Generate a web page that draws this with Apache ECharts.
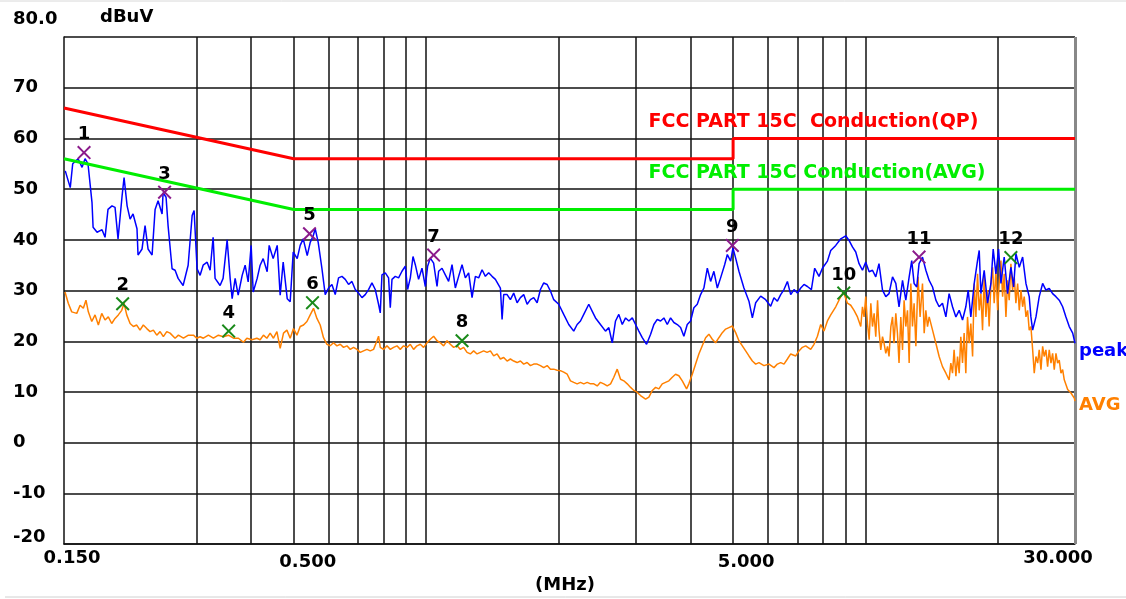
<!DOCTYPE html>
<html><head><meta charset="utf-8">
<script src="https://cdn.jsdelivr.net/npm/echarts@6/dist/echarts.min.js"></script>
<style>html,body{margin:0;padding:0;background:#fff}#c{width:1126px;height:599px}</style>
</head><body><div id="c"></div>
<script>
const peakFreq = [0.151,0.155,0.157,0.1615,0.1649,0.1675,0.1701,0.1737,0.1747,0.1784,0.1831,0.1860,0.1889,0.1929,0.1960,0.1991,0.2034,0.2055,0.2088,0.2121,0.2154,0.2199,0.2211,0.2258,0.2294,0.2330,0.2380,0.2418,0.2456,0.2508,0.2521,0.2561,0.2588,0.2643,0.2685,0.2728,0.2800,0.2875,0.2936,0.2966,0.3013,0.3061,0.3110,0.3176,0.3226,0.3277,0.3311,0.3399,0.3453,0.3527,0.3583,0.3621,0.3678,0.3737,0.3816,0.3876,0.3938,0.4000,0.4043,0.4128,0.4193,0.4260,0.4350,0.4396,0.4489,0.4585,0.4657,0.4731,0.4832,0.4908,0.4986,0.5092,0.5172,0.5255,0.5366,0.5451,0.5538,0.5595,0.5684,
0.5795,0.5897,0.6000,0.6108,0.6215,0.6323,0.6437,0.6550,0.6664,0.6783,0.6902,0.7023,0.7149,0.7273,0.7400,0.7533,0.7665,0.7799,0.7869,0.7939,0.8079,0.8219,0.8293,0.8367,0.8513,0.8661,0.8817,0.8972,0.9081,0.9211,0.9342,0.9455,0.9619,0.9792,0.9965,1.0085,1.0229,1.0408,1.0595,1.0684,1.0876,1.1066,1.1259,1.1462,1.1662,1.1866,1.2079,1.2291,1.2505,1.2730,1.2953,1.3179,1.3416,1.3650,1.3888,1.4137,1.4386,1.4768,1.4900,1.5026,1.5296,1.5563,1.5834,1.6120,1.6402,1.6688,1.6989,1.7285,1.7586,1.7903,1.8216,1.8534,1.8868,1.9197,1.9532,2.005,2.058,2.113,2.169,2.208,2.247,2.286,2.347,2.390,2.431,
2.495,2.562,2.607,2.654,2.700,2.747,2.797,2.846,2.896,2.948,2.999,3.051,3.106,3.177,3.245,3.301,3.360,3.419,3.479,3.541,3.603,3.666,3.732,3.797,3.863,3.932,4.001,4.071,4.144,4.217,4.290,4.368,4.444,4.521,4.603,4.683,4.783,4.851,4.936,4.996,5.067,5.155,5.292,5.433,5.531,5.628,5.777,5.930,6.088,6.194,6.306,6.416,6.528,6.646,6.762,6.880,7.004,7.126,7.250,7.380,7.536,7.668,7.843,7.984,8.197,
8.340,8.562,8.790,9.023,9.180,9.345,9.509,9.675,9.849,10.02,10.20,10.38,10.56,10.74,10.94,11.13,11.32,11.53,11.73,11.93,12.15,12.36,12.58,12.75,12.91,13.09,13.25,13.49,13.73,13.97,14.22,14.47,14.72,14.98,15.25,15.51,15.79,16.07,16.35,16.64,16.93,17.14,17.38,17.69,18.00,18.16,18.32,18.64,18.97,19.31,19.54,19.82,20.10,20.35,20.70,21.07,21.44,21.75,22.01,22.40,22.80,23.20,23.60,23.81,24.03,24.45,24.87,25.32,25.76,26.21,26.68,27.15,27.62,28.12,28.61,29.11,29.64,30.0];
const peakLevel = [53.6,50.3,55.0,56.0,54.3,56.0,55.0,47.4,42.5,41.5,42.0,40.5,46.0,46.7,46.4,40.2,48.7,52.3,46.7,44.1,45.1,42.2,37.0,38.2,42.8,38.2,37.0,46.0,47.7,45.1,49.3,48.4,42.8,34.3,34.0,32.4,31.0,35.0,44.8,45.8,34.3,33.0,35.0,35.6,34.0,40.5,32.4,31.0,32.4,40.0,32.4,28.4,32.4,29.1,33.0,35.0,31.7,38.9,29.7,32.4,35.0,36.3,33.7,38.9,36.3,38.9,29.1,35.6,28.4,27.8,37.6,36.3,38.9,40.2,36.9,39.5,40.8,42.2,39.5,
34.4,29.2,30.5,31.2,29.2,32.5,32.8,32.2,31.2,31.8,30.2,29.5,28.6,29.2,30.2,31.5,30.2,27.3,25.6,33.1,33.5,32.5,26.6,32.2,32.8,32.5,33.8,34.8,30.2,32.5,36.7,35.1,32.2,34.4,30.8,34.8,36.4,35.4,30.8,33.8,34.4,33.1,31.8,35.1,30.5,32.8,35.1,32.5,33.5,28.6,32.8,32.5,34.1,32.8,33.5,32.8,32.2,30.5,24.3,29.2,29.2,28.2,29.5,27.6,28.6,29.2,27.3,28.2,28.6,27.6,30.2,31.5,31.2,29.9,28.2,27.3,25.3,23.3,22.0,23.3,24.0,25.3,27.3,25.9,24.6,
23.3,22.0,22.7,19.7,24.0,25.3,23.3,24.6,24.0,24.6,23.3,22.0,20.7,19.4,21.4,23.3,24.3,24.0,24.6,23.3,24.6,23.7,23.3,22.7,21.0,23.3,24.0,26.6,27.3,29.2,30.5,34.4,31.8,33.8,30.5,32.5,35.1,37.1,35.8,38.4,36.4,33.8,30.5,27.9,24.6,27.6,28.9,28.2,26.9,28.6,27.9,29.2,30.2,31.8,29.2,30.2,29.5,30.5,31.2,30.8,30.2,34.4,32.8,34.4,35.8,
37.9,38.9,40.2,40.8,39.9,38.6,37.6,35.3,34.0,35.6,33.7,34.0,32.7,35.3,30.1,28.8,29.4,32.7,31.4,26.8,32.0,28.1,32.7,35.9,31.4,30.7,35.3,36.6,34.0,32.0,30.7,28.1,26.8,27.5,24.8,29.4,26.8,24.8,26.1,24.2,26.8,30.1,24.8,31.4,35.9,37.9,29.4,34.0,27.5,31.4,38.2,33.3,38.2,31.4,36.6,29.4,34.6,30.7,37.3,34.6,36.6,31.4,28.8,24.8,22.2,24.8,28.8,31.4,30.1,30.4,29.4,28.8,28.1,26.8,24.8,22.9,21.6,19.6];

const avgFreq = [0.1508,0.1534,0.1562,0.1604,0.1632,0.1660,0.1683,0.1704,0.1735,0.1765,0.1796,0.1828,0.1860,0.1892,0.1926,0.1960,0.1994,0.2030,0.2055,0.2084,0.2121,0.2158,0.2196,0.2234,0.2273,0.2315,0.2355,0.2396,0.2439,0.2482,0.2525,0.2570,0.2615,0.2685,0.2732,0.2805,0.2879,0.2956,0.3008,0.3061,0.3114,0.3197,0.3282,0.3369,0.3459,0.3551,0.3646,0.3742,0.3842,0.3911,0.4015,0.4121,0.4193,0.4266,0.4343,0.4419,0.4496,0.4578,0.4657,0.4739,0.4824,0.4908,0.4994,0.5084,0.5172,0.5263,0.5358,0.5451,0.5546,0.5646,0.5744,
0.5844,0.5950,0.6054,0.6159,0.6270,0.6380,0.6491,0.6608,0.6723,0.6841,0.6964,0.7086,0.7209,0.7338,0.7467,0.7597,0.7734,0.7799,0.7869,0.8006,0.8151,0.8293,0.8438,0.8589,0.8739,0.8891,0.9053,0.9211,0.9371,0.9539,0.9706,0.9875,1.0054,1.0229,1.0408,1.0595,1.0780,1.0968,1.1165,1.1360,1.1558,1.1767,1.1972,1.2181,1.2401,1.2617,1.2837,1.3069,1.3297,1.3529,1.3772,1.4013,1.4257,1.4515,1.4768,1.5026,1.5296,1.5563,1.5834,1.6120,1.6402,1.6688,1.6989,1.7285,1.7586,1.7903,1.8216,1.8534,1.8868,1.9197,1.9532,1.988,2.023,2.058,2.096,2.132,2.169,2.208,2.247,2.286,2.328,2.368,2.410,2.453,
2.495,2.539,2.585,2.631,2.676,2.724,2.772,2.820,2.871,2.922,2.973,3.026,3.078,3.161,3.216,3.274,3.331,3.389,3.449,3.509,3.571,3.635,3.698,3.763,3.831,3.918,3.965,4.037,4.108,4.179,4.254,4.329,4.404,4.483,4.562,4.641,4.725,4.808,4.892,4.980,5.067,5.155,5.248,5.340,5.433,5.531,5.628,5.726,5.878,6.034,6.194,6.306,6.416,6.528,6.646,6.762,6.942,7.062,7.189,7.315,7.509,7.640,7.778,7.913,8.051,8.197,
8.340,8.562,8.790,8.915,9.103,9.262,9.424,9.594,9.762,9.849,9.932,10.02,10.11,10.20,10.29,10.38,10.47,10.56,10.66,10.74,10.84,10.94,11.03,11.13,11.23,11.32,11.43,11.53,11.62,11.73,11.83,11.93,12.04,12.15,12.25,12.36,12.47,12.58,12.69,12.80,12.91,13.03,13.18,13.32,13.49,13.61,13.73,13.85,13.97,14.22,14.47,14.72,14.98,15.25,15.51,15.65,15.79,15.92,16.07,16.21,16.35,16.49,16.64,16.78,16.93,17.08,17.23,17.38,17.54,17.69,17.85,18.00,18.16,18.32,18.48,18.64,18.81,18.97,19.13,19.31,19.48,19.64,19.82,20.00,20.16,20.35,20.53,20.70,20.89,21.07,21.25,21.44,21.63,21.82,22.01,22.21,22.40,22.60,22.80,22.99,23.20,23.40,23.60,23.81,24.03,24.23,24.45,24.67,24.87,25.10,25.32,25.53,25.76,25.99,26.21,26.45,26.68,26.91,27.15,27.39,27.62,27.87,28.12,28.36,28.87,29.37,29.89,30.0];
const avgLevel = [29.7,27.5,25.8,25.5,27.1,26.5,28.1,25.8,23.9,25.2,23.2,25.5,24.2,24.8,23.5,24.5,25.2,26.1,27.5,25.2,23.5,22.9,23.2,22.2,23.2,22.5,21.9,22.2,21.2,21.9,20.9,21.9,21.6,20.6,21.2,20.6,21.2,21.2,20.6,20.9,20.6,21.2,20.6,21.2,20.9,21.2,20.6,20.6,19.8,20.6,20.3,20.6,20.3,21.2,20.6,21.6,20.6,21.9,18.6,21.6,22.2,20.6,22.5,21.2,22.9,23.2,23.9,25.2,26.5,24.5,23.2,
20.7,19.4,19.1,19.7,19.1,19.4,18.8,19.1,18.4,18.8,18.4,17.8,18.1,18.4,18.1,18.4,20.1,21.0,18.8,18.4,19.1,18.4,18.8,19.1,18.4,19.1,18.8,19.4,18.4,19.1,19.4,18.8,19.7,20.4,21.0,20.1,19.7,19.1,20.1,19.4,18.8,19.1,18.4,18.8,17.8,17.5,18.1,17.5,17.8,18.1,17.8,18.1,17.1,17.5,16.5,16.8,16.1,16.5,16.1,15.8,16.1,15.5,15.8,15.2,15.5,15.5,15.2,14.8,15.2,14.5,14.5,14.3,14.2,13.9,13.5,12.2,11.9,11.6,11.9,11.6,11.9,11.6,11.6,11.2,
11.9,11.6,11.2,11.6,12.9,14.5,12.5,12.2,11.6,10.9,10.3,9.9,9.3,8.6,9.0,10.3,10.9,10.6,11.6,11.9,12.2,12.9,13.5,13.2,12.2,10.6,11.6,13.5,15.5,17.5,19.1,20.7,21.4,20.4,19.7,20.7,21.7,22.4,22.7,23.0,21.7,20.1,19.1,18.1,17.1,16.1,15.5,15.8,15.2,15.5,14.8,15.5,15.8,15.5,16.5,17.5,17.1,18.1,18.8,19.1,18.4,19.4,21.0,23.3,22.0,24.0,
25.2,26.8,28.8,29.7,27.5,27.1,26.1,24.8,22.9,26.8,24.8,28.8,23.5,20.3,27.5,22.9,25.5,20.9,28.1,22.2,18.3,20.9,19.6,17.6,19.0,17.0,22.9,24.8,19.6,25.5,21.6,15.7,24.8,18.3,28.1,22.9,26.1,15.7,31.4,22.9,27.5,19.0,32.7,24.8,31.4,21.6,26.1,22.9,24.8,22.2,19.6,17.0,15.0,13.7,12.4,15.7,13.7,18.3,13.1,17.0,13.7,20.9,15.7,21.6,13.7,24.8,19.6,23.5,17.0,31.4,24.8,33.3,26.1,29.4,22.2,32.7,24.8,30.1,22.9,31.4,34.6,27.5,34.0,26.1,31.4,35.9,28.8,33.3,24.8,32.0,28.1,35.3,30.1,32.7,27.5,31.4,26.1,30.1,26.8,28.8,24.8,26.1,22.2,22.9,18.3,13.7,17.0,15.7,18.3,14.4,19.0,17.0,18.3,15.0,18.3,15.7,17.6,14.4,17.6,15.7,16.3,13.7,14.4,12.4,10.5,9.8,8.8,8.2];

const qpLimitFreq = [0.15, 0.5, 5, 5, 30];
const qpLimitLevel = [66, 56, 56, 60, 60];
const avLimitFreq = [0.15, 0.5, 5, 5, 30];
const avLimitLevel = [56, 46, 46, 50, 50];
const qpLimitText = 'FCC PART 15C  Conduction(QP)';
const avLimitText = 'FCC PART 15C Conduction(AVG)';

const markerNo = [1, 2, 3, 4, 5, 6, 7, 8, 9, 10, 11, 12];
const markerFreq = [0.1666, 0.2040, 0.2541, 0.3555, 0.5431, 0.5517, 1.0408, 1.2079, 4.980, 8.93, 13.25, 21.44];
const markerLevel = [57.2, 27.4, 49.4, 22.0, 41.2, 27.6, 37.0, 20.1, 38.9, 29.5, 36.6, 36.5];
const markerKind = ['qp','av','qp','av','qp','av','qp','av','qp','av','qp','av'];

const gridFreqs = [0.3,0.4,0.5,0.6,0.7,0.8,0.9,1,2,3,4,5,6,7,8,9,10,20];
const xLabelValues = [0.15, 0.5, 5, 30];
const xLabelTexts = ['0.150', '0.500', '5.000', '30.000'];

const FONT = 'DejaVu Sans';
const zip = (a, b) => a.map((v, i) => [v, b[i]]);
const xSym = 'path://M0,1L1,0L5,4L9,0L10,1L6,5L10,9L9,10L5,6L1,10L0,9L4,5Z';
const txt = (extra) => Object.assign({fontFamily: FONT, fontSize: 18, fontWeight: 'bold', color: '#000'}, extra || {});

const xRich = {
  a: txt({padding: [0, 0, 0, 16]}),
  b: txt({padding: [4, 0, 0, 28]}),
  c: txt({padding: [4, 0, 0, 26]}),
  d: txt({padding: [0, 34, 0, 0]})
};
const xKeys = ['a', 'b', 'c', 'd'];

function markerSeries(kind, color) {
  const data = [];
  markerNo.forEach((n, i) => {
    if (markerKind[i] === kind) data.push({value: [markerFreq[i], markerLevel[i]], name: String(n)});
  });
  return {
    type: 'scatter', z: 6, data: data, symbol: xSym, symbolSize: 14,
    itemStyle: {color: color, opacity: 1},
    label: txt({show: true, position: 'top', distance: 2, opacity: 1, formatter: p => p.name}),
    silent: true
  };
}

const chart = echarts.init(document.getElementById('c'));
chart.setOption({
  animation: false,
  backgroundColor: '#fff',
  grid: {left: 64, right: 51, top: 37, bottom: 52},
  xAxis: {
    type: 'log', logBase: 10, min: 0.15, max: 30,
    axisLine: {show: true, onZero: false, lineStyle: {color: '#111', width: 1.5}},
    axisTick: {show: false},
    splitLine: {show: false},
    axisLabel: Object.assign(txt(), {
      customValues: xLabelValues, margin: 5, rich: xRich,
      formatter: function (v) {
        let k = 0, best = 1e9;
        xLabelValues.forEach((x, i) => { const d = Math.abs(Math.log(v / x)); if (d < best) { best = d; k = i; } });
        return '{' + xKeys[k] + '|' + xLabelTexts[k] + '}';
      }
    }),
    name: '(MHz)', nameLocation: 'middle', nameGap: 6,
    nameTextStyle: txt({padding: [0, 9, 0, 0]})
  },
  yAxis: {
    type: 'value', min: -20, max: 80, interval: 10,
    axisLine: {show: true, lineStyle: {color: '#111', width: 1.5}},
    axisTick: {show: false},
    splitLine: {show: true, lineStyle: {color: '#111', width: 1.5}},
    axisLabel: Object.assign(txt(), {
      align: 'left', margin: 51,
      rich: {t: txt({padding: [0, 0, 35, 0]}), b: txt({padding: [0, 0, 14, 0]})},
      formatter: v => v === 80 ? '{t|80.0}' : (v === -20 ? '{b|-20}' : String(v))
    }),
    name: 'dBuV', nameLocation: 'end', nameGap: 11,
    nameTextStyle: txt({align: 'left', padding: [0, 0, 0, 36]})
  },
  series: [
    {
      type: 'line', z: 1, data: [], silent: true,
      markLine: {
        silent: true, symbol: 'none', animation: false, z: 1,
        label: {show: false},
        lineStyle: {color: '#111', width: 1.5, type: 'solid'},
        emphasis: {disabled: true},
        data: gridFreqs.map(f => ({xAxis: f})).concat([{xAxis: 30, lineStyle: {color: '#888', width: 3}}])
      }
    },
    {
      name: 'AVG', type: 'line', z: 3, data: zip(avgFreq, avgLevel), showSymbol: false,
      lineStyle: {color: '#ff8000', width: 1.5}, itemStyle: {color: '#ff8000'},
      endLabel: txt({show: true, formatter: 'AVG', color: '#ff8000', offset: [0, 4], distance: 4})
    },
    {
      name: 'peak', type: 'line', z: 3, data: zip(peakFreq, peakLevel), showSymbol: false,
      lineStyle: {color: '#0000ff', width: 1.5}, itemStyle: {color: '#0000ff'},
      endLabel: txt({show: true, formatter: 'peak', color: '#0000ff', offset: [0, 8], distance: 4})
    },
    {
      name: 'QP limit', type: 'line', z: 4, data: zip(qpLimitFreq, qpLimitLevel), showSymbol: false,
      lineStyle: {color: '#ff0000', width: 3}, itemStyle: {color: '#ff0000'},
      markPoint: {
        symbol: 'circle', symbolSize: 0, itemStyle: {color: 'transparent'},
        label: txt({show: true, position: 'right', distance: 0, color: '#ff0000', fontSize: 19, formatter: qpLimitText}),
        data: [{coord: [3.211, 63.2]}]
      }
    },
    {
      name: 'AVG limit', type: 'line', z: 4, data: zip(avLimitFreq, avLimitLevel), showSymbol: false,
      lineStyle: {color: '#00ee00', width: 3}, itemStyle: {color: '#00ee00'},
      markPoint: {
        symbol: 'circle', symbolSize: 0, itemStyle: {color: 'transparent'},
        label: txt({show: true, position: 'right', distance: 0, color: '#00ee00', fontSize: 19, formatter: avLimitText}),
        data: [{coord: [3.211, 53.2]}]
      }
    },
    markerSeries('qp', '#8b1a8b'),
    markerSeries('av', '#1a8a1a')
  ],
  graphic: [
    {type: 'line', shape: {x1: 0, y1: 1, x2: 1126, y2: 1}, style: {stroke: '#d8d8d8', lineWidth: 1}, silent: true},
    {type: 'line', shape: {x1: 5, y1: 597, x2: 1126, y2: 597}, style: {stroke: '#d0d0d0', lineWidth: 1}, silent: true}
  ]
});
</script></body></html>
